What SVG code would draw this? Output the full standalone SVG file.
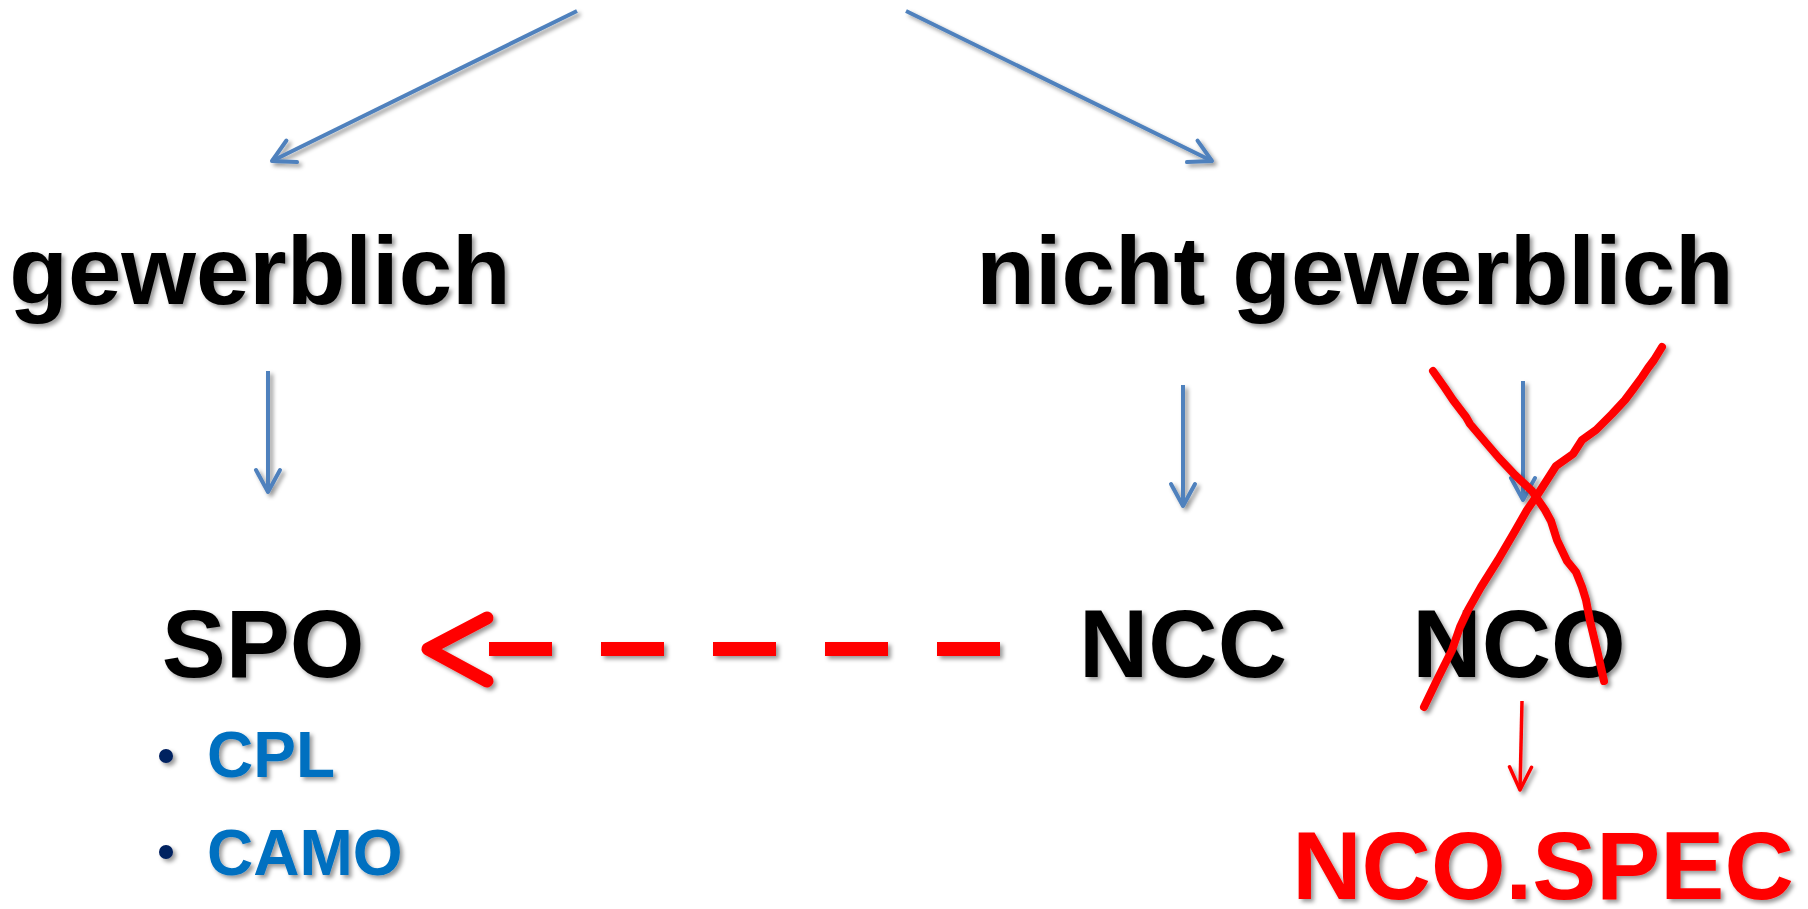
<svg xmlns="http://www.w3.org/2000/svg" width="1808" height="909" viewBox="0 0 1808 909">
<style>
  .t{font-family:"Liberation Sans",Arial,sans-serif;font-weight:bold;}
  .big{font-size:96px;fill:#000;}
  .sub{font-size:64px;fill:#0070C0;}
  .red{font-size:96px;fill:#FF0000;}
  .blue{stroke:#4F81BD;stroke-width:4;fill:none;marker-end:url(#ab);}
  .redline{stroke:#FF0000;fill:none;stroke-linecap:round;stroke-linejoin:round;}
</style>
<defs>
  <filter id="sh" x="-10%" y="-10%" width="130%" height="130%">
    <feDropShadow dx="3" dy="3" stdDeviation="2" flood-color="#000" flood-opacity="0.4"/>
  </filter>
  <marker id="ab" markerUnits="userSpaceOnUse" markerWidth="40" markerHeight="40" refX="0" refY="0" viewBox="-30 -20 40 40" orient="auto" overflow="visible">
    <path d="M-22,-12 L0,0 L-22,12" fill="none" stroke="#4F81BD" stroke-width="4" stroke-linecap="round" stroke-linejoin="round"/>
  </marker>
  <marker id="ar" markerUnits="userSpaceOnUse" markerWidth="40" markerHeight="40" refX="0" refY="0" viewBox="-30 -20 40 40" orient="auto" overflow="visible">
    <path d="M-23,-11 L0,0 L-23,11" fill="none" stroke="#FF0000" stroke-width="3.5" stroke-linecap="round" stroke-linejoin="round"/>
  </marker>
</defs>
<rect width="1808" height="909" fill="#fff"/>

<g id="connectors" filter="url(#sh)">
  <line class="blue" x1="577" y1="11" x2="272" y2="161"/>
  <line class="blue" x1="906" y1="11" x2="1212" y2="161"/>
  <line class="blue" x1="268" y1="371" x2="268" y2="492"/>
  <line class="blue" x1="1183" y1="385" x2="1183" y2="506"/>
  <line class="blue" x1="1523" y1="381" x2="1523" y2="500"/>
  <g id="dashed-arrow">
    <line class="redline" x1="489" y1="649" x2="1000" y2="649" stroke-width="14" stroke-dasharray="63 49" style="stroke-linecap:butt"/>
    <polyline class="redline" points="487,618 428,649 487,681" stroke-width="13"/>
  </g>
  <line x1="1522" y1="701" x2="1520" y2="790" stroke="#FF0000" stroke-width="3.5" marker-end="url(#ar)"/>
</g>

<g id="node-gewerblich" filter="url(#sh)"><text class="t big" x="260" y="304" text-anchor="middle">gewerblich</text></g>
<g id="node-nicht-gewerblich" filter="url(#sh)"><text class="t big" x="1355" y="304" text-anchor="middle">nicht gewerblich</text></g>
<g id="node-spo" filter="url(#sh)">
  <text class="t big" x="263" y="677" text-anchor="middle">SPO</text>
  <circle cx="166" cy="756" r="7" fill="#002060"/>
  <text class="t sub" x="207" y="777">CPL</text>
  <circle cx="166" cy="852" r="7" fill="#002060"/>
  <text class="t sub" x="207" y="875">CAMO</text>
</g>
<g id="node-ncc" filter="url(#sh)"><text class="t big" x="1183" y="677" text-anchor="middle">NCC</text></g>
<g id="node-nco" filter="url(#sh)"><text class="t big" x="1519" y="677" text-anchor="middle">NCO</text></g>
<g id="node-nco-spec" filter="url(#sh)"><text class="t red" x="1543" y="899" text-anchor="middle">NCO.SPEC</text></g>

<g id="cross" filter="url(#sh)">
  <polyline class="redline" stroke-width="8" points="1433,371 1445,388 1453,400 1466,417 1470,424 1487,444 1499,458 1515,475 1532,491 1545,510 1551,521 1557,540 1567,561 1576,572 1582,587 1586,600 1590,621 1597,650 1604,681"/>
  <polyline class="redline" stroke-width="8" points="1424,707 1437,680 1452,650 1460,627 1468,610 1481,587 1498,560 1515,531 1527,510 1538,494 1556,466 1573,454 1582,440 1596,430 1612,414 1625,400 1634,388 1642,377 1648,368 1654,360 1662,347"/>
</g>
</svg>
